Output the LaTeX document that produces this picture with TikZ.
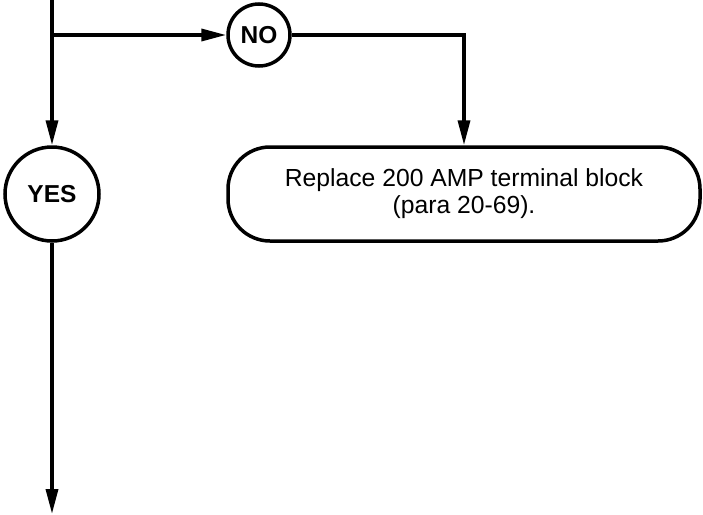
\documentclass[tikz,border=0pt]{standalone}
\usepackage{fontspec}
\setmainfont{Liberation Sans}
\usetikzlibrary{arrows.meta, positioning}
\tikzset{
  answer/.style  = {circle, draw=black, line width=3.5pt, inner sep=0pt, align=center, font=\fontsize{24.5}{28}\selectfont\bfseries},
  action/.style  = {rectangle, rounded corners=42pt, draw=black, line width=3.5pt, minimum width=472pt, minimum height=94pt, align=center, font=\fontsize{24.7}{27}\selectfont},
  flow/.style    = {-{Triangle[length=25pt, width=12pt]}, line width=3.5pt, black},
}
\begin{document}
\begin{tikzpicture}[x=1pt, y=-1pt]

\useasboundingbox (0,0) rectangle (703,514);

% 分支点
\coordinate (top)   at (52,0);
\coordinate (split) at (52,35);
\coordinate (end)   at (52,514);

% 判断结果
\node[answer, minimum size=62pt] (no)  at (259,35)  {NO};
\node[answer, minimum size=94pt] (yes) at (52,194)  {YES};

% 处理步骤
\node[action] (replace) at (464,194) {Replace 200 AMP terminal block\\(para 20-69).};

% 连线
\draw[flow] (top) -- (yes);
\draw[flow] (split) -- (no);
\draw[flow] (no) -| (replace);
\draw[flow] (yes) -- (end);

\end{tikzpicture}
\end{document}
